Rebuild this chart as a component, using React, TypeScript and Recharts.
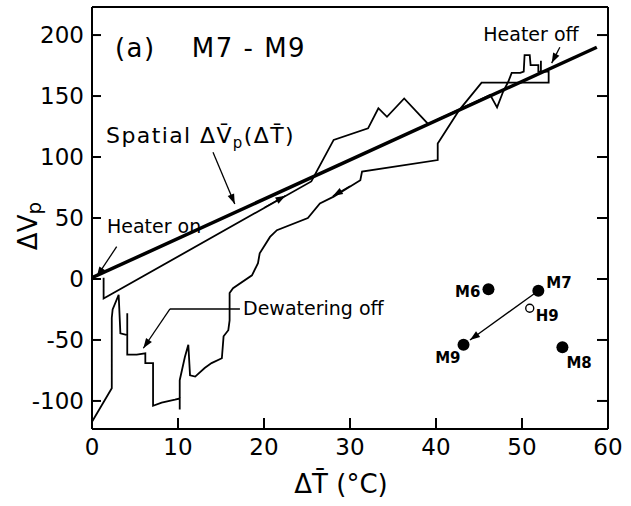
import React from 'react';
import {
  ComposedChart,
  Line,
  Scatter,
  XAxis,
  YAxis,
  ReferenceLine,
  ReferenceDot
} from 'recharts';

const FONT = '"DejaVu Sans", sans-serif';

const xTicks = [0, 10, 20, 30, 40, 50, 60];
const yTicks = [-100, -50, 0, 50, 100, 150, 200];
const xMin = 0;
const xMax = 60;
const yMin = -123;
const yMax = 223;

// measured M7-M9 loop, in drawing order: heating up the thin line, cooling back down
const loopT = [
  1.35, 1.35, 25.5, 28.1, 32.1, 33.3, 34.3, 36.3, 39.1, 46.3, 47.1, 47.8, 48.4, 48.8, 49.8,
  50.2, 50.3, 50.9, 51.0, 51.9, 51.9, 52.2, 52.2, 52.2, 53.1, 53.1, 45.3, 42.7, 40.2, 40.2,
  31.4, 31.2, 28.1, 26.5, 25.1, 21.5, 20.7, 19.5, 19.3, 18.6, 16.4, 16.0, 16.0, 15.85, 15.3,
  15.1, 13.9, 13.1, 12.0, 11.4, 11.2, 10.8, 10.2, 10.2, 10.2, 9.65, 8.1, 7.1, 7.1, 6.2,
  6.2, 5.2, 4.1, 4.1, 4.1, 3.3, 3.1, 2.4, 2.3, 2.3, 0
];
const loopV = [
  1, -16, 80, 114, 123.5, 140, 133, 148, 127, 151, 140.7, 153.5, 161.7, 169, 169,
  170, 183.6, 183.6, 175.4, 175.4, 170, 170, 179, 170, 170, 161, 161, 138.5, 111, 97.5,
  88, 81, 67.5, 62, 50, 40, 34.5, 21, 13, 3, -7.5, -11.5, -34, -42, -47,
  -65, -69, -73, -80, -79, -54, -64, -83, -107, -98, -99, -101.4, -104, -69, -69,
  -61, -62, -62, -28, -46, -44.5, -13, -25, -32, -89.6, -117
];

// spatial relation line
const spatialT = [0, 58.7];
const spatialV = [1, 190];

// well layout sketch
const wellNames = ['M6', 'M7', 'H9', 'M9', 'M8'];
const wellT = [46.1, 51.9, 50.9, 43.2, 54.7];
const wellV = [-8.5, -9.6, -24, -54, -56];
const wellFilled = [true, true, false, true, true];

const loopData = loopT.map((x, i) => ({ x, y: loopV[i] }));
const spatialData = spatialT.map((x, i) => ({ x, y: spatialV[i] }));
const wells = wellNames.map((name, i) => ({ name, x: wellT[i], y: wellV[i], filled: wellFilled[i] }));

// label placement around each well marker (px)
const wellLabel: Record<string, { dx: number; dy: number; anchor: 'start' | 'end' }> = {
  M6: { dx: -8, dy: 8, anchor: 'end' },
  M7: { dx: 8, dy: -3, anchor: 'start' },
  H9: { dx: 6, dy: 13, anchor: 'start' },
  M9: { dx: -3, dy: 18, anchor: 'end' },
  M8: { dx: 4, dy: 21, anchor: 'start' }
};

type Arrow = { from: [number, number]; to: [number, number]; head: boolean };
const arrows: Arrow[] = [
  { from: [2.87, 26.5], to: [0.55, 1.9], head: true }, // heater on
  { from: [14.07, 104], to: [16.6, 61.5], head: true }, // spatial
  { from: [17.2, -24.6], to: [9.07, -24.6], head: false }, // dewatering leader
  { from: [9.07, -24.6], to: [5.97, -56.8], head: true },
  { from: [54.4, 190], to: [53.45, 177], head: true }, // heater off
  { from: [51.5, -11.7], to: [43.95, -50], head: true }, // M7 -> M9
  { from: [20, 58.4], to: [22.5, 68.3], head: true }, // heating direction
  { from: [30, 76.2], to: [28, 68], head: true } // cooling direction
];

type Note = { x: number; y: number; text: string; size: number };
const notes: Note[] = [
  { x: 2.67, y: 182, text: '(a)', size: 26 },
  { x: 11.6, y: 182, text: 'M7 - M9', size: 26 },
  { x: 1.63, y: 111.5, text: 'Spatial', size: 22 },
  { x: 1.74, y: 37.7, text: 'Heater on', size: 19 },
  { x: 17.56, y: -29.5, text: 'Dewatering off', size: 19 },
  { x: 45.5, y: 195, text: 'Heater off', size: 19 }
];

function headPoints(x1: number, y1: number, x2: number, y2: number): string {
  const a = Math.atan2(y2 - y1, x2 - x1);
  const len = 10;
  const half = 3.5;
  const bx = x2 - len * Math.cos(a);
  const by = y2 - len * Math.sin(a);
  const nx = -Math.sin(a) * half;
  const ny = Math.cos(a) * half;
  return `${x2},${y2} ${bx + nx},${by + ny} ${bx - nx},${by - ny}`;
}

function arrowShape(head: boolean) {
  return (p: any) => (
    <g>
      <line x1={p.x1} y1={p.y1} x2={p.x2} y2={p.y2} stroke="#000" strokeWidth={1.3} />
      {head ? <polygon points={headPoints(p.x1, p.y1, p.x2, p.y2)} fill="#000" /> : null}
    </g>
  );
}

function noteShape(n: Note) {
  return (p: any) => {
    if (n.text === 'Spatial') {
      return (
        <text x={p.cx} y={p.cy} fontSize={n.size} fontFamily={FONT} fill="#000" letterSpacing={1.4}>
          {'Spatial \u0394V\u0304'}
          <tspan dy={5} fontSize={15}>p</tspan>
          <tspan dy={-5}>{'(\u0394T\u0304)'}</tspan>
        </text>
      );
    }
    return (
      <text x={p.cx} y={p.cy} fontSize={n.size} fontFamily={FONT} fill="#000" letterSpacing={n.size > 24 ? 1.5 : 0}>
        {n.text}
      </text>
    );
  };
}

function WellDot(p: any) {
  const w = p.payload;
  const l = wellLabel[w.name];
  return (
    <g>
      {w.filled ? (
        <circle cx={p.cx} cy={p.cy} r={6} fill="#000" />
      ) : (
        <circle cx={p.cx} cy={p.cy} r={4} fill="#fff" stroke="#000" strokeWidth={1.4} />
      )}
      <text x={p.cx + l.dx} y={p.cy + l.dy} textAnchor={l.anchor} fontSize={15} fontWeight="bold" fontFamily={FONT} fill="#000">
        {w.name}
      </text>
    </g>
  );
}

// axis ticks: inward marks plus the number; p.x / p.y come from the axis scale
const TICK_W = 2;
const BottomTick = (p: any) => (
  <g>
    <line x1={p.x} y1={p.y - 9} x2={p.x} y2={p.y - 20} stroke="#000" strokeWidth={TICK_W} />
    <text x={p.x} y={p.y + 17} textAnchor="middle" fontSize={23} fontFamily={FONT} fill="#000">
      {p.payload.value}
    </text>
  </g>
);
const LeftTick = (p: any) => (
  <g>
    <line x1={p.x + 8} y1={p.y} x2={p.x + 17} y2={p.y} stroke="#000" strokeWidth={TICK_W} />
    <text x={p.x} y={p.y} dy="0.36em" textAnchor="end" fontSize={23} fontFamily={FONT} fill="#000">
      {p.payload.value}
    </text>
  </g>
);
const TopTick = (p: any) => <line x1={p.x} y1={p.y} x2={p.x} y2={p.y + 11} stroke="#000" strokeWidth={TICK_W} />;
const RightTick = (p: any) => <line x1={p.x} y1={p.y} x2={p.x - 11} y2={p.y} stroke="#000" strokeWidth={TICK_W} />;

const axisLine = { stroke: '#000', strokeWidth: 2 };

export default function App(): React.ReactElement {
  return (
    <div style={{ position: 'absolute', left: 0, top: 0, background: '#fff' }}>
      <ComposedChart width={631} height={506} margin={{ top: 6, right: 22, bottom: 47, left: 0 }}>
        <XAxis
          xAxisId="b"
          dataKey="x"
          type="number"
          domain={[xMin, xMax]}
          ticks={xTicks}
          interval={0}
          allowDataOverflow
          height={30}
          tickSize={0}
          tickMargin={9}
          axisLine={axisLine}
          tickLine={false}
          tick={BottomTick}
          label={(p: any) => {
            const vb = p.viewBox;
            return (
              <text x={vb.x + vb.width / 2 - 9} y={vb.y + 64} textAnchor="middle" fontSize={26} fontFamily={FONT} fill="#000">
                {'\u0394T\u0304 (\u00b0C)'}
              </text>
            );
          }}
        />
        <XAxis
          xAxisId="t"
          orientation="top"
          type="number"
          domain={[xMin, xMax]}
          ticks={xTicks}
          interval={0}
          allowDataOverflow
          height={1}
          tickSize={0}
          tickMargin={0}
          axisLine={axisLine}
          tickLine={false}
          tick={TopTick}
        />
        <YAxis
          yAxisId="l"
          dataKey="y"
          type="number"
          domain={[yMin, yMax]}
          ticks={yTicks}
          interval={0}
          allowDataOverflow
          width={92}
          tickSize={0}
          tickMargin={8}
          axisLine={axisLine}
          tickLine={false}
          tick={LeftTick}
          label={(p: any) => {
            const vb = p.viewBox;
            const cx = vb.x + 37;
            const cy = vb.y + vb.height / 2 + 8;
            return (
              <text transform={`rotate(-90 ${cx} ${cy})`} x={cx} y={cy} textAnchor="middle" fontSize={26} fontFamily={FONT} fill="#000">
                {'\u0394V'}
                <tspan dy={4} fontSize={20}>p</tspan>
              </text>
            );
          }}
        />
        <YAxis
          yAxisId="r"
          orientation="right"
          type="number"
          domain={[yMin, yMax]}
          ticks={yTicks}
          interval={0}
          allowDataOverflow
          width={1}
          tickSize={0}
          tickMargin={0}
          axisLine={axisLine}
          tickLine={false}
          tick={RightTick}
        />

        <Line
          xAxisId="b"
          yAxisId="l"
          data={spatialData}
          dataKey="y"
          type="linear"
          stroke="#000"
          strokeWidth={3.5}
          dot={false}
          isAnimationActive={false}
        />
        <Line
          xAxisId="b"
          yAxisId="l"
          data={loopData}
          dataKey="y"
          type="linear"
          stroke="#000"
          strokeWidth={1.8}
          strokeLinejoin="miter"
          dot={false}
          isAnimationActive={false}
        />
        <Scatter xAxisId="b" yAxisId="l" data={wells} shape={WellDot} isAnimationActive={false} />

        {arrows.map((a, i) => (
          <ReferenceLine
            key={`a${i}`}
            xAxisId="b"
            yAxisId="l"
            segment={[
              { x: a.from[0], y: a.from[1] },
              { x: a.to[0], y: a.to[1] }
            ]}
            shape={arrowShape(a.head)}
          />
        ))}
        {notes.map((n, i) => (
          <ReferenceDot key={`n${i}`} xAxisId="b" yAxisId="l" x={n.x} y={n.y} r={0} shape={noteShape(n)} />
        ))}
      </ComposedChart>
    </div>
  );
}
